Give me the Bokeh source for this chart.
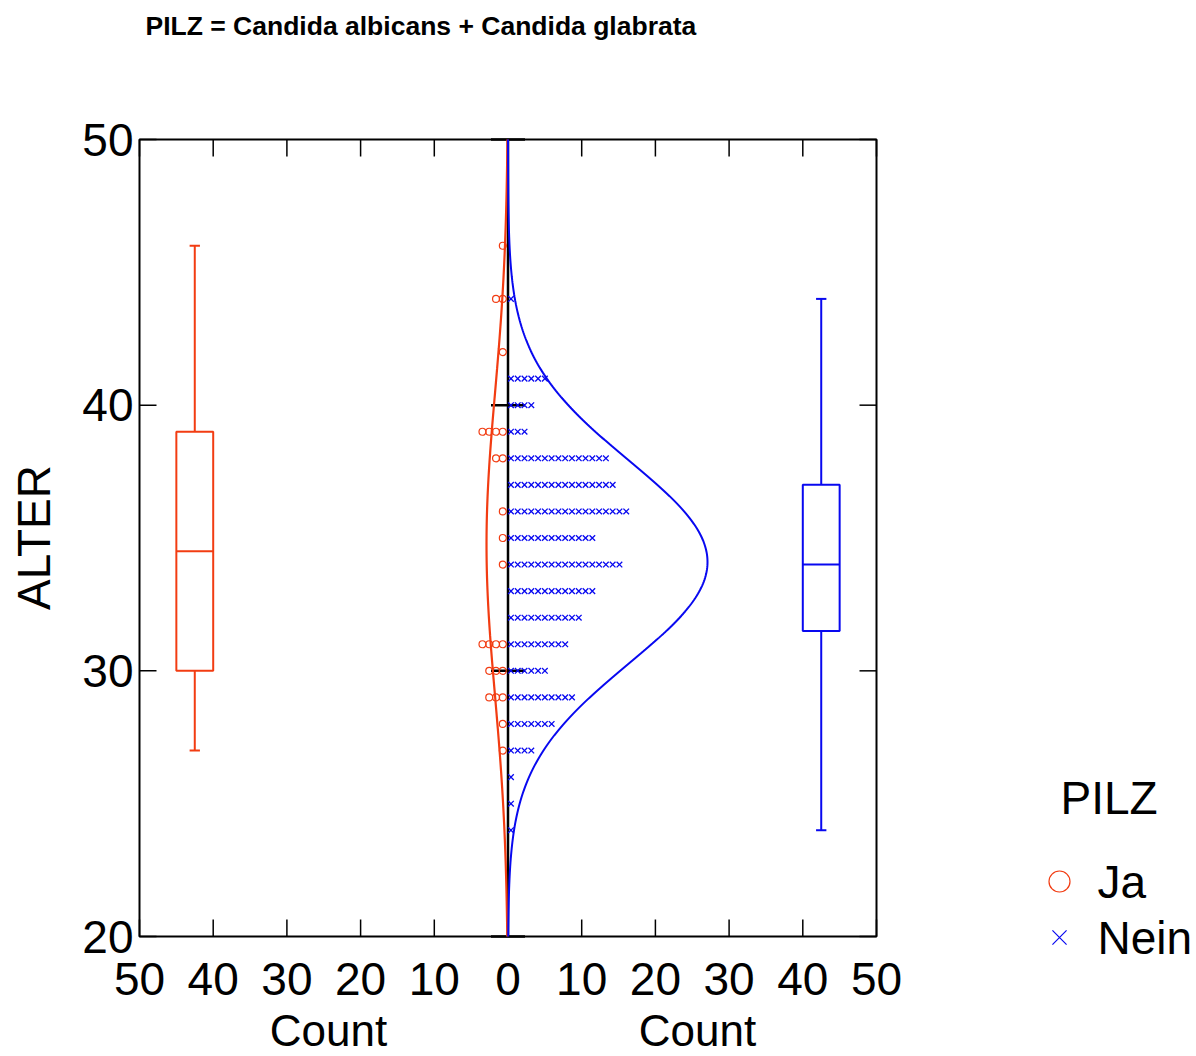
import numpy as np
from bokeh.plotting import figure
from bokeh.models import Range1d, ColumnDataSource
from bokeh.core.properties import value
from bokeh.embed import file_html
from bokeh.resources import INLINE

# Patients per age (years), split by fungus finding
ages_ja = [46, 44, 42, 39, 38, 36, 35, 34, 31, 30, 29, 28, 27]
count_ja = [1, 2, 1, 4, 2, 1, 1, 1, 4, 3, 3, 1, 1]
ages_nein = [44, 41, 40, 39, 38, 37, 36, 35, 34, 33, 32, 31, 30, 29, 28,
             27, 26, 25, 24]
count_nein = [1, 6, 4, 3, 15, 16, 18, 13, 17, 13, 11, 9, 6, 10, 7, 4, 1, 1, 1]

# Box plot summaries: min, Q1, median, Q3, max
box_ja = [27, 30, 34.5, 39, 46]
box_nein = [24, 31.5, 34, 37, 44]

count_ticks = [-50, -40, -30, -20, -10, 0, 10, 20, 30, 40, 50]
count_labels = [str(abs(t)) for t in count_ticks]
age_ticks = [20, 30, 40, 50]
age_labels = [str(t) for t in age_ticks]
groups = ["Ja", "Nein"]

RED = "#F23C12"
BLUE = "#0808F0"
FONT = "Liberation Sans"
CURVE_SCALE = 1.66

# Canvas and plot-box geometry (pixels)
W, H = 1196, 1056
FR_L, FR_R, FR_T, FR_B = 139, 876, 139, 936
X0, X1, Y0, Y1 = -50, 50, 20, 50
KX = (FR_R - FR_L) / (X1 - X0)   # px per count
KY = (FR_B - FR_T) / (Y1 - Y0)   # px per year


def dx(px):
    return X0 + (px - FR_L) / KX


def dy(py):
    return Y1 - (py - FR_T) / KY


p = figure(width=W, height=H,
           x_range=Range1d(dx(0), dx(W)), y_range=Range1d(dy(H), dy(0)),
           output_backend="svg", toolbar_location=None,
           x_axis_location=None, y_axis_location=None, min_border=0)
p.grid.visible = False
p.outline_line_color = None
p.background_fill_color = "white"
p.border_fill_color = "white"

# Plot box with inward ticks on all four sides
TICK = 17
n_c = len(count_ticks)
n_a = len(age_ticks)
p.segment(x0=count_ticks, x1=count_ticks, y0=[Y0] * n_c, y1=[Y0 + TICK / KY] * n_c,
          line_color="black", line_width=1.5)
p.segment(x0=count_ticks, x1=count_ticks, y0=[Y1] * n_c, y1=[Y1 - TICK / KY] * n_c,
          line_color="black", line_width=1.5)
p.segment(x0=[X0] * n_a, x1=[X0 + TICK / KX] * n_a, y0=age_ticks, y1=age_ticks,
          line_color="black", line_width=1.5)
p.segment(x0=[X1] * n_a, x1=[X1 - TICK / KX] * n_a, y0=age_ticks, y1=age_ticks,
          line_color="black", line_width=1.5)
p.quad(left=[X0], right=[X1], bottom=[Y0], top=[Y1], fill_color=None,
       line_color="black", line_width=2)

# Zero line splitting the two count scales, with its own age ticks
p.segment(x0=[0], y0=[Y0], x1=[0], y1=[Y1], line_color="black", line_width=2.5)
p.segment(x0=[-17 / KX] * n_a, y0=age_ticks, x1=[17 / KX] * n_a,
          y1=age_ticks, line_color="black", line_width=2.5)

# Tick labels
p.text(x=count_ticks, y=[dy(978)] * n_c, text=count_labels,
       text_font=value(FONT), text_font_size=value("46px"), text_color="black",
       text_align="center", text_baseline="middle")
p.text(x=[dx(133)] * n_a, y=age_ticks, text=age_labels,
       text_font=value(FONT), text_font_size=value("46px"), text_color="black",
       text_align="right", text_baseline="middle")

# Fitted normal curves, scaled to counts
grid = np.linspace(Y0, Y1, 401)


def normal_curve(ages, counts):
    a = np.repeat(ages, counts)
    m, s = a.mean(), a.std(ddof=1)
    return CURVE_SCALE * len(a) / (s * np.sqrt(2 * np.pi)) * np.exp(-0.5 * ((grid - m) / s) ** 2)


p.line(-normal_curve(ages_ja, count_ja), grid, line_color=RED, line_width=2.2)
p.line(normal_curve(ages_nein, count_nein), grid, line_color=BLUE, line_width=2)

# One marker per patient, stacked outward from the zero line
STEP = 0.92


def stack(ages, counts, sign, first):
    xs, ys = [], []
    for a, n in zip(ages, counts):
        for k in range(n):
            xs.append(sign * (first + k * STEP))
            ys.append(a)
    return ColumnDataSource(dict(x=xs, y=ys))


p.scatter("x", "y", source=stack(ages_ja, count_ja, -1, 0.7), marker="circle",
          size=7, fill_color=None, line_color=RED, line_width=1.2)
p.scatter("x", "y", source=stack(ages_nein, count_nein, 1, 0.4), marker="x",
          size=8, line_color=BLUE, line_width=1.3)

# Box plots on both outer sides
BOX_X = 42.5
BOX_HALF = 2.5
CAP_HALF = 0.7
for sign, stats, col in ((-1, box_ja, RED), (1, box_nein, BLUE)):
    lo, q1, med, q3, hi = stats
    cx = sign * BOX_X
    p.quad(left=[cx - BOX_HALF], right=[cx + BOX_HALF], bottom=[q1], top=[q3],
           fill_color=None, line_color=col, line_width=2)
    p.segment(x0=[cx - BOX_HALF], x1=[cx + BOX_HALF], y0=[med], y1=[med],
              line_color=col, line_width=2)
    p.segment(x0=[cx, cx], x1=[cx, cx], y0=[lo, q3], y1=[q1, hi],
              line_color=col, line_width=2)
    p.segment(x0=[cx - CAP_HALF, cx - CAP_HALF], x1=[cx + CAP_HALF, cx + CAP_HALF],
              y0=[lo, hi], y1=[lo, hi], line_color=col, line_width=2)

# Title and axis titles
p.text(x=[dx(145)], y=[dy(25)], text=["PILZ = Candida albicans + Candida glabrata"],
       text_font=value(FONT), text_font_size=value("26.5px"), text_font_style="bold",
       text_color="black", text_align="left", text_baseline="middle")
p.text(x=[dx(33)], y=[dy(537)], text=["ALTER"], angle=np.pi / 2,
       text_font=value(FONT), text_font_size=value("46px"), text_color="black",
       text_align="center", text_baseline="middle")
p.text(x=[dx(328), dx(697)], y=[dy(1030)] * 2, text=["Count", "Count"],
       text_font=value(FONT), text_font_size=value("44px"), text_color="black",
       text_align="center", text_baseline="middle")

# Legend
p.text(x=[dx(1060)], y=[dy(797)], text=["PILZ"],
       text_font=value(FONT), text_font_size=value("46px"), text_color="black",
       text_align="left", text_baseline="middle")
leg_y = [dy(881), dy(937)]
p.scatter(x=[dx(1059)], y=[leg_y[0]], marker="circle", size=21, fill_color=None,
          line_color=RED, line_width=1.2)
p.scatter(x=[dx(1059)], y=[leg_y[1]], marker="x", size=20, line_color=BLUE,
          line_width=1.2)
p.text(x=[dx(1097)] * 2, y=leg_y, text=groups,
       text_font=value(FONT), text_font_size=value("46px"), text_color="black",
       text_align="left", text_baseline="middle")

open("out.html", "w").write(file_html(p, INLINE))
